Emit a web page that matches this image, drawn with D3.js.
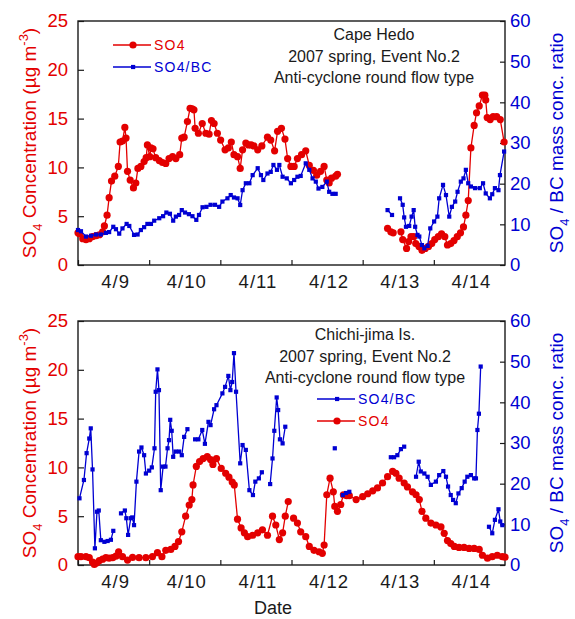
<!DOCTYPE html>
<html>
<head>
<meta charset="utf-8">
<script src="https://cdn.jsdelivr.net/npm/d3@7/dist/d3.min.js"></script>
<style>
  body { margin: 0; background: #fff; }
  svg { display: block; font-family: "Liberation Sans", Arial, sans-serif; }
</style>
</head>
<body>
<svg id="chart" width="575" height="619"></svg>
<script>
// Time axis: 2007-04-09 00:00 to 2007-04-15 00:00, values are hours after the start
const dayStart = new Date(2007, 3, 9);
const dayEnd = new Date(2007, 3, 15);
const dayLabels = ["4/9", "4/10", "4/11", "4/12", "4/13", "4/14"];
const so4Ticks = [0, 5, 10, 15, 20, 25];
const ratioTicks = [0, 10, 20, 30, 40, 50, 60];

// Cape Hedo: SO4 concentration (µg m-3), [hour, value]; null breaks the line
const hedoSO4 = [
  [0,3.3],[0.5,3.2],[1.6,2.7],[2.7,2.6],[3.8,2.7],[4.9,2.9],[6.1,3.0],[7.2,3.1],[8.3,3.4],[8.9,4.0],
  [9.8,5.1],[10.5,6.9],[11.3,8.6],[12.4,9.1],[13.6,10.1],[14.2,12.6],[15.0,12.7],[15.8,14.1],[16.2,13.0],
  [16.7,9.6],[17.6,8.7],[18.7,7.9],[19.5,8.4],[20.2,9.9],[21.2,10.1],[22.3,10.6],[23.0,11.0],[23.4,12.3],
  [24.2,11.1],[24.6,12.0],[25.3,11.9],[26.2,11.0],[27.4,10.7],[28.5,10.5],[29.6,10.4],[30.7,10.9],
  [31.9,11.1],[33.0,10.9],[34.3,11.3],[35.0,13.0],[35.8,13.1],[36.9,14.7],[37.8,16.05],[38.5,16.0],
  [39.1,15.9],[39.5,14.0],[40.6,13.5],[41.9,14.5],[43.1,13.5],[44.2,13.4],[45.0,14.8],[45.9,14.5],
  [47.0,13.5],[48.1,12.8],[49.6,11.8],[50.7,12.0],[51.7,12.6],[52.6,11.3],[53.8,11.1],[54.7,9.9],
  [55.5,11.8],[56.6,12.5],[57.5,12.3],[58.4,12.3],[59.3,12.2],[60.6,11.8],[62.0,12.2],[63.9,13.1],
  [65.0,12.8],[66.3,11.7],[67.3,13.7],[68.6,14.0],[69.8,12.9],[70.7,10.9],[71.8,10.1],[72.9,10.1],
  [74.0,10.9],[75.4,11.3],[76.8,11.7],[78.0,10.2],[79.4,9.7],[80.5,9.2],[81.8,9.6],[83.0,10.1],
  [83.9,8.7],[84.7,8.4],[85.5,8.9],[86.9,9.1],[87.5,9.3],
  [95,null],
  [104.4,3.75],[105.5,3.4],[106.3,3.3],
  [107.5,null],
  [108.9,3.4],[109.5,2.6],[110.8,1.7],[111.5,2.4],[112.3,2.9],[113.2,2.9],[113.9,2.2],[115.0,1.9],
  [116.0,1.5],[117.1,1.7],[118.2,1.9],[119.3,2.2],[120.3,2.6],[121.5,2.9],[122.6,3.2],[123.7,2.9],
  [124.6,2.05],[125.7,2.2],[126.8,2.5],[127.9,2.9],[129.0,3.3],[130.0,3.9],[130.8,5.1],[131.6,6.6],
  [132.5,12.0],[133.6,14.3],[134.4,15.6],[135.3,16.3],[136.4,17.4],[137.2,17.4],[137.5,16.9],
  [138.0,15.1],[139.0,14.9],[140.0,15.2],[141.2,15.2],[142.4,14.9],[143.7,12.6]
];

// Cape Hedo: SO4 / BC mass concentration ratio
const hedoRatio = [
  [0,8.6],[1.0,8.3],[2.7,7.0],[4.4,7.2],[6.1,7.5],[7.7,7.5],[9.4,7.9],[10.5,8.1],[11.9,9.4],[12.8,8.8],
  [13.9,7.7],[15.0,9.0],[16.4,10.1],[17.3,9.6],[18.9,7.4],[20.1,7.5],[21.2,8.6],[22.3,9.3],[23.4,10.1],
  [24.6,10.1],[25.7,10.9],[27.4,11.5],[28.7,12.0],[29.8,12.9],[31.0,12.6],[32.1,10.9],[33.0,11.9],
  [34.1,12.3],[35.0,13.5],[36.1,12.9],[37.4,12.5],[38.6,12.0],[39.9,11.1],[40.8,12.3],[42.0,14.2],
  [43.3,14.3],[44.7,14.8],[46.2,14.8],[47.6,14.3],[48.7,15.6],[50.4,16.4],[51.5,17.2],[52.6,16.6],
  [53.8,16.4],[54.7,14.75],[55.5,18.4],[56.6,20.1],[57.8,20.1],[58.9,22.1],[60.6,23.8],[61.7,22.1],
  [62.5,20.9],[63.9,22.5],[65.0,22.9],[65.9,24.6],[67.1,23.4],[67.9,24.6],[69.0,21.7],[70.4,21.3],
  [71.8,20.1],[72.9,20.9],[74.0,21.7],[75.1,21.9],[76.8,25.0],[78.0,23.4],[79.1,21.3],[80.2,20.5],
  [81.1,18.8],[82.4,19.2],[83.9,20.5],[84.7,18.0],[85.8,17.5],[86.9,17.5],
  [95,null],
  [104.4,13.5],[105.9,12.3],
  [107.0,null],
  [108.6,16.4],[109.5,14.8],[110.0,11.7],[110.6,9.4],[111.7,9.6],[112.5,11.9],[113.2,13.5],[113.7,9.4],
  [114.5,7.4],[115.1,7.0],[116.0,4.9],[116.8,4.1],[117.9,4.7],[118.8,9.0],[120.1,10.7],[121.2,11.9],
  [121.8,16.4],[123.1,19.7],[124.1,17.2],[125.2,11.9],[126.1,14.3],[127.2,15.6],[128.0,18.0],
  [129.1,20.5],[130.0,21.3],[130.8,23.4],[131.6,20.1],[132.5,19.3],[133.9,18.9],[135.5,18.9],
  [136.6,20.1],[137.5,17.6],[138.9,16.4],[139.7,17.4],[140.6,18.9],[141.8,18.4],[142.3,22.1],[143.7,27.9]
];

// Chichi-jima Is.: SO4 concentration (µg m-3)
const chichiSO4 = [
  [0,0.85],[1.0,0.85],[2.7,0.85],[3.8,0.75],[4.9,0.3],[5.5,0.05],[6.3,0.2],[7.2,0.45],[8.3,0.6],
  [9.4,0.75],[10.5,0.7],[11.7,0.75],[12.8,0.9],[13.7,1.36],[15.0,0.85],[16.7,0.5],[18.4,0.78],
  [20.6,0.75],[22.9,0.75],[25.1,0.85],[26.8,1.26],[28.3,0.85],[29.6,1.5],[31.3,1.6],[32.7,1.9],
  [33.9,2.4],[35.0,3.4],[36.3,5.0],[37.5,6.15],[38.4,6.7],[38.8,8.2],[39.9,10.1],[41.0,10.6],
  [42.2,10.9],[43.6,11.1],[44.7,10.8],[45.5,10.3],[46.7,10.9],[48.3,9.9],[49.8,9.4],[50.9,9.0],
  [52.0,8.5],[52.7,8.2],[53.8,4.7],[55.0,3.8],[56.1,3.3],[57.2,2.9],[58.9,3.05],[60.6,3.3],[62.2,3.6],
  [63.9,3.05],[65.6,5.0],[66.7,4.1],[67.9,2.6],[69.0,3.3],[69.9,5.0],[70.9,6.5],
  [71.8,null],
  [72.7,4.8],[74.0,4.3],[75.1,3.4],[76.8,2.9],[78.0,1.9],[79.6,1.5],[81.3,1.36],[82.4,1.2],[83.0,2.05],
  [83.9,7.2],[85.0,8.9],[86.1,7.5],[86.6,6.0],[87.5,5.5],[88.6,6.2],[89.5,7.2],[90.6,7.1],[91.5,7.1],
  [93.8,6.7],[96.0,7.0],[97.7,7.3],[99.4,7.6],[101.0,7.9],[102.7,8.4],[104.4,9.05],[106.1,9.6],
  [107.2,9.4],[108.3,8.9],[110.0,8.4],[111.1,8.0],[112.8,7.5],[114.0,7.2],[115.1,6.7],[116.0,5.5],
  [117.3,4.8],[119.0,4.3],[120.7,4.1],[122.4,3.9],[123.5,3.25],[124.6,2.5],[125.7,2.2],[126.9,1.9],
  [128.5,1.8],[130.2,1.8],[131.9,1.7],[133.6,1.7],[135.3,1.6],[136.4,1.0],[138.1,0.7],[139.7,0.85],
  [141.4,1.0],[143.1,0.85],[144,0.8]
];

// Chichi-jima Is.: SO4 / BC mass concentration ratio
const chichiRatio = [
  [0.5,16.4],[2.0,20.9],[2.9,27.5],[3.8,31.1],[4.3,33.6],[4.9,23.5],[5.7,4.1],[6.4,13.1],[7.0,13.4],
  [7.7,6.1],[8.9,5.7],[10.0,5.9],[11.1,6.2],[11.9,8.4],
  [13.0,null],
  [14.5,12.7],[15.8,13.4],[16.3,11.5],[16.9,7.4],[17.8,11.5],[18.3,11.7],[18.9,9.8],[19.7,20.5],
  [20.6,27.9],[21.4,28.9],[22.3,27.0],[22.9,22.5],[24.0,23.2],[24.9,24.0],[25.8,28.7],[26.2,42.6],
  [26.8,48.1],[27.3,43.0],[27.9,18.4],[28.7,24.2],[29.5,24.2],[30.2,28.7],[30.7,30.7],[31.1,35.7],
  [31.6,33.0],[32.1,26.6],[32.9,27.9],[34.1,27.9],[35.0,27.0],[35.8,31.5],[36.9,33.4],
  [38.0,null],
  [39.5,30.9],[40.6,30.9],[41.9,33.2],[42.8,29.8],[44.0,35.2],[44.7,34.4],[45.9,38.3],[46.7,39.3],
  [48.7,42.2],[49.6,43.8],[50.7,46.5],[51.4,43.0],[52.0,45.0],[52.6,52.1],[53.3,42.6],[54.7,25.0],
  [55.5,29.5],[56.6,28.3],[57.8,18.4],[59.0,17.2],[59.8,20.5],[61.0,21.3],[62.0,22.8],
  [63.5,null],
  [64.8,19.9],[65.6,26.2],[66.2,33.0],[67.0,41.2],[67.5,38.1],[68.1,30.9],[69.0,29.9],[69.9,34.0],
  [78.0,null],
  [86.6,28.7],
  [88.0,null],
  [89.3,17.2],[90.4,17.7],[91.5,18.0],
  [100.0,null],
  [105.5,26.5],[106.6,26.5],[107.7,27.0],[108.9,28.5],[110.0,29.1],
  [112.0,null],
  [114.0,21.7],[114.9,25.4],[115.6,23.0],[116.8,22.5],[117.9,21.7],[119.0,19.7],[120.7,20.5],
  [121.8,22.1],[123.2,23.1],[124.1,21.7],[124.8,19.3],[125.7,17.2],[126.5,16.0],[127.4,15.2],
  [128.3,17.6],[129.4,18.9],[130.4,20.5],[131.3,21.7],[132.5,22.1],[133.6,21.3],[134.2,21.3],
  [134.7,33.2],[135.2,37.2],[135.8,48.8],
  [137.0,null],
  [138.6,9.4],[139.7,7.8],[140.6,11.1],[141.8,13.7],[142.4,10.7],[143.1,9.8]
];

const RED = "#e30000";
const BLUE = "#0000d2";
const INK = "#1a1a1a";

const svg = d3.select("#chart");
const left = 78, right = 505;

const x = d3.scaleTime().domain([dayStart, dayEnd]).range([left, right]);
const at = h => d3.timeMinute.offset(dayStart, Math.round(h * 60));

function drawPanel(cfg) {
  const top = cfg.top, bottom = cfg.top + 244;
  const y = d3.scaleLinear().domain([0, 25]).range([bottom, top]);
  const y2 = d3.scaleLinear().domain([0, 60]).range([bottom, top]);
  const g = svg.append("g");

  // left axis (SO4)
  const ax = g.append("g").attr("transform", `translate(${left},0)`)
    .call(d3.axisLeft(y).tickValues(so4Ticks).tickSizeInner(-6).tickSizeOuter(0).tickPadding(10));
  ax.select(".domain").remove();
  ax.selectAll("line").attr("stroke", INK).attr("stroke-width", 1.2);
  ax.selectAll("text").attr("fill", RED).style("font-size", "18.5px").style("font-family", "inherit");

  // right axis (ratio)
  const ar = g.append("g").attr("transform", `translate(${right},0)`)
    .call(d3.axisRight(y2).tickValues(ratioTicks).tickSizeInner(-5).tickSizeOuter(0).tickPadding(5));
  ar.select(".domain").remove();
  ar.selectAll("line").attr("stroke", INK).attr("stroke-width", 1.2);
  ar.selectAll("text").attr("fill", BLUE).style("font-size", "18.5px").style("font-family", "inherit");

  // bottom axis: day boundaries as ticks, labels centred on each day
  const days = d3.timeDay.range(dayStart, dayEnd);
  const ab = g.append("g").attr("transform", `translate(0,${bottom})`)
    .call(d3.axisBottom(x).tickValues(days).tickSizeInner(-5).tickSizeOuter(0).tickFormat(""));
  ab.select(".domain").remove();
  ab.selectAll("line").attr("stroke", INK).attr("stroke-width", 1.2);
  g.selectAll(".daylabel").data(days).join("text")
    .attr("x", d => x(d3.timeHour.offset(d, 12)) + 2)
    .attr("y", bottom + 23)
    .attr("text-anchor", "middle")
    .attr("fill", INK)
    .style("font-size", "18.5px")
    .style("letter-spacing", "1px")
    .text((d, i) => dayLabels[i]);

  // frame
  g.append("rect").attr("x", left).attr("y", top).attr("width", right - left).attr("height", bottom - top)
    .attr("fill", "none").attr("stroke", INK).attr("stroke-width", 1.4);

  // series
  const series = [
    { data: cfg.so4, scale: y, color: RED, marker: "circle" },
    { data: cfg.ratio, scale: y2, color: BLUE, marker: "square" }
  ];
  series.forEach(s => {
    const line = d3.line().defined(d => d[1] != null)
      .x(d => x(at(d[0]))).y(d => s.scale(d[1]));
    g.append("path").datum(s.data).attr("d", line)
      .attr("fill", "none").attr("stroke", s.color).attr("stroke-width", 1.3);
    const pts = s.data.filter(d => d[1] != null);
    if (s.marker === "circle") {
      g.append("g").selectAll("circle").data(pts).join("circle")
        .attr("cx", d => x(at(d[0]))).attr("cy", d => s.scale(d[1])).attr("r", 3.6)
        .attr("fill", s.color);
    } else {
      g.append("g").selectAll("rect").data(pts).join("rect")
        .attr("x", d => x(at(d[0])) - 2.1).attr("y", d => s.scale(d[1]) - 2.1)
        .attr("width", 4.2).attr("height", 4.2).attr("fill", s.color);
    }
  });

  // annotation
  cfg.notes.forEach((t, i) => {
    g.append("text").attr("x", cfg.noteX).attr("y", top + 19 + i * 21.5)
      .attr("text-anchor", "middle").attr("fill", INK).style("font-size", "16px").text(t);
  });

  // legend
  cfg.legend.forEach((item, i) => {
    const ly = cfg.legendY + i * 22;
    const lx = cfg.legendX;
    g.append("line").attr("x1", lx).attr("x2", lx + 38).attr("y1", ly).attr("y2", ly)
      .attr("stroke", item.color).attr("stroke-width", 1.3);
    if (item.marker === "circle") {
      g.append("circle").attr("cx", lx + 20).attr("cy", ly).attr("r", 3.6).attr("fill", item.color);
    } else {
      g.append("rect").attr("x", lx + 18).attr("y", ly - 2.1).attr("width", 4.2).attr("height", 4.2)
        .attr("fill", item.color);
    }
    g.append("text").attr("x", lx + 41).attr("y", ly + 5).attr("fill", item.color)
      .style("font-size", "14px").style("letter-spacing", "1.2px").text(item.label);
  });

  // axis titles
  const mid = (top + bottom) / 2;
  const tl = g.append("text").attr("transform", `translate(36,${mid}) rotate(-90)`)
    .attr("text-anchor", "middle").attr("fill", RED).style("font-size", "19px");
  tl.append("tspan").text("SO");
  tl.append("tspan").attr("dy", 6).style("font-size", "13px").text("4");
  tl.append("tspan").attr("dy", -6).text(" Concentration (µg m");
  tl.append("tspan").attr("dy", -8).style("font-size", "13px").text("-3");
  tl.append("tspan").attr("dy", 8).text(")");

  const tr = g.append("text").attr("transform", `translate(563,${mid}) rotate(-90)`)
    .attr("text-anchor", "middle").attr("fill", BLUE).style("font-size", "19px");
  tr.append("tspan").text("SO");
  tr.append("tspan").attr("dy", 6).style("font-size", "13px").text("4");
  tr.append("tspan").attr("dy", -6).text(" / BC mass conc. ratio");
}

drawPanel({
  top: 21, so4: hedoSO4, ratio: hedoRatio,
  notes: ["Cape Hedo", "2007 spring, Event No.2", "Anti-cyclone round flow type"], noteX: 374,
  legendX: 113, legendY: 45,
  legend: [
    { label: "SO4", color: RED, marker: "circle" },
    { label: "SO4/BC", color: BLUE, marker: "square" }
  ]
});

drawPanel({
  top: 321, so4: chichiSO4, ratio: chichiRatio,
  notes: ["Chichi-jima Is.", "2007 spring, Event No.2", "Anti-cyclone round flow type"], noteX: 365,
  legendX: 317, legendY: 399,
  legend: [
    { label: "SO4/BC", color: BLUE, marker: "square" },
    { label: "SO4", color: RED, marker: "circle" }
  ]
});

svg.append("text").attr("x", 273).attr("y", 614).attr("text-anchor", "middle")
  .attr("fill", INK).style("font-size", "18px").text("Date");
</script>
</body>
</html>
